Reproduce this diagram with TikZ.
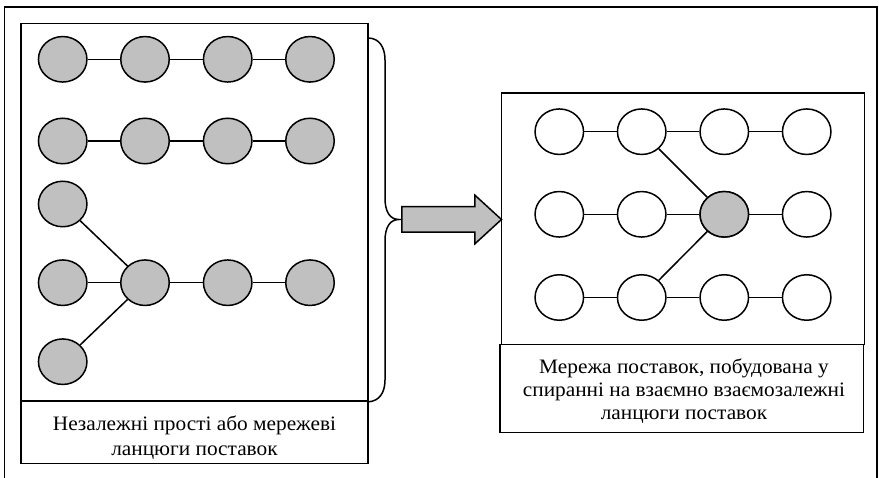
\documentclass[tikz,border=0pt]{standalone}
\usepackage{fontspec}
\setmainfont{Liberation Serif}
\newfontfamily\capfont[FakeStretch=1.04]{Liberation Serif}
\usetikzlibrary{shapes.geometric,shapes.arrows}
\definecolor{nodegray}{HTML}{C0C0C0}
\begin{document}
\begin{tikzpicture}[x=1pt,y=-1pt,line width=1.5pt,
  unit/.style={ellipse,draw,minimum width=48.5pt,minimum height=45.5pt,inner sep=0pt},
  hub/.style={unit,fill=nodegray},
  plain/.style={unit,fill=white},
  frame/.style={draw,rectangle,inner sep=0pt},
  capline/.style={anchor=base,inner sep=0pt,font=\capfont\fontsize{20.5}{24}\selectfont},
  link/.style={draw,line width=1.5pt}]
\useasboundingbox (0,0) rectangle (879,478);

% page frame (open at the bottom)
\draw[line width=1.2pt] (4.5,490) -- (4.5,7) -- (877,7) -- (877,490);

% left panel: independent chains
\node[frame,minimum width=347pt,minimum height=377.7pt] (lbox) at (194.5,212.2) {};
\node[frame,minimum width=347pt,minimum height=62.3pt] (lcap) at (194.5,432.2) {};
\node[capline] (lcap1) at (194.5,430.7) {Незалежні прості або мережеві};
\node[capline] (lcap2) at (194.5,456) {ланцюги поставок};

\foreach \r/\y in {1/59.3,2/141,4/282.7}{
  \foreach \c/\x in {a/62.7,b/145,c/227.7,d/310}{
    \node[hub] (l\r\c) at (\x,\y) {};
  }
  \draw[link] (l\r a) -- (l\r b) -- (l\r c) -- (l\r d);
}
\node[hub] (l3a) at (62.7,204) {};
\node[hub] (l5a) at (62.7,361.7) {};
\draw[link] (l3a) -- (l4b);
\draw[link] (l4b) -- (l5a);

% brace gathering the left panel
\coordinate (btop) at (368,38);
\coordinate (btip) at (399,219.5);
\coordinate (bbot) at (lbox.south east);
\draw (btop) .. controls (379,38) and (385,47) .. (385,60)
  -- (385,198) .. controls (385,212) and (390,219.5) .. (btip)
  .. controls (390,219.5) and (385,227) .. (385,241)
  -- (385,380) .. controls (385,393) and (379,401) .. (bbot);

% block arrow
\node[single arrow,draw,fill=nodegray,anchor=tail,minimum height=99.7pt,
  inner sep=12pt,single arrow head extend=11.5pt,single arrow tip angle=85] (arr) at (401,219.5) {};

% right panel: interlinked network
\node[frame,minimum width=362.6pt,minimum height=251.3pt] (rbox) at (683,218.7) {};
\node[frame,minimum width=363.5pt,minimum height=88.4pt] (rcap) at (681.7,388.5) {};
\node[capline] (rcap1) at (684,373.3) {Мережа поставок, побудована у};
\node[capline] (rcap2) at (684,396.3) {спиранні на взаємно взаємозалежні};
\node[capline] (rcap3) at (684,419.3) {ланцюги поставок};

\foreach \r/\y in {1/131.7,2/214.3,3/297.5}{
  \foreach \c/\x in {a/559.3,b/641.7,c/724.3,d/806.7}{
    \node[plain] (r\r\c) at (\x,\y) {};
  }
}
\node[hub] (r2c) at (724.3,214.3) {};
\foreach \r in {1,2,3}{
  \draw[link] (r\r a) -- (r\r b) -- (r\r c) -- (r\r d);
}
\draw[link] (r1b) -- (r2c);
\draw[link] (r2c) -- (r3b);
\end{tikzpicture}
\end{document}
